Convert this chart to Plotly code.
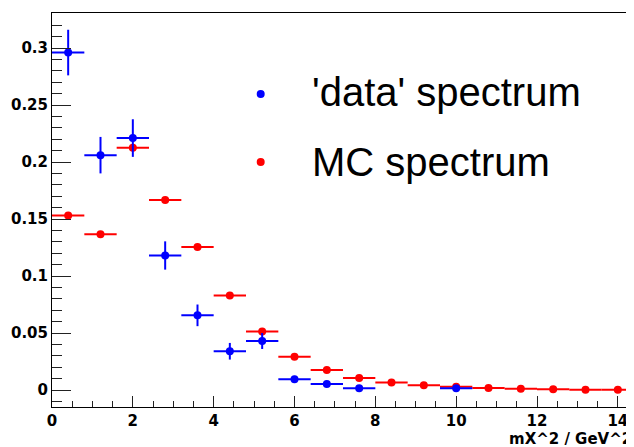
import plotly.graph_objects as go

# ---- data ----
bin_centers = [0.4, 1.2, 2.0, 2.8, 3.6, 4.4, 5.2, 6.0, 6.8, 7.6, 8.4, 9.2, 10.0, 10.8, 11.6, 12.4, 13.2, 14.0]
bin_half_width = 0.4

data_values = [0.296, 0.206, 0.221, 0.118, 0.0655, 0.034, 0.043, 0.0094, 0.0053, 0.0015,
               None, None, 0.0015, None, None, None, None, None]
data_errors = [0.020, 0.016, 0.0165, 0.0124, 0.0095, 0.0073, 0.007, 0.003, 0.002, 0.0015,
               None, None, 0.0015, None, None, None, None, None]

mc_values = [0.153, 0.1366, 0.2126, 0.1667, 0.1254, 0.083, 0.0514, 0.0292, 0.0175, 0.0105,
             0.0067, 0.0041, 0.0029, 0.0018, 0.0012, 0.0006, 0.0003, 0.0003]
mc_errors = [0.001] * len(mc_values)

legend_labels = ["'data' spectrum", "MC spectrum"]
x_title = "mX^2 / GeV^2"

BLUE = "#0000ff"
RED = "#ff0000"

# page body margin offsets the figure by 8px; compensate
OFF = 8
W, H = 634, 447
# desired screen positions of the plot frame
SL, SR, ST, SB = 52, 634, 13, 407
L, T = SL - OFF, ST - OFF
R = W - (SR - OFF)
B = H - (SB - OFF)
PW = SR - SL
PH = SB - ST

def px_x(px):
    return (px - SL) / PW

def px_y(py):
    return (SB - py) / PH

fig = go.Figure()

fig.add_trace(go.Scatter(
    x=bin_centers, y=mc_values, mode="markers", name=legend_labels[1],
    marker=dict(color=RED, size=8),
    error_x=dict(type="constant", value=bin_half_width, color=RED, thickness=2, width=0),
    error_y=dict(type="data", array=mc_errors, color=RED, thickness=2, width=0),
    showlegend=False,
))

xs_d = [x for x, v in zip(bin_centers, data_values) if v is not None]
ys_d = [v for v in data_values if v is not None]
es_d = [e for e, v in zip(data_errors, data_values) if v is not None]
fig.add_trace(go.Scatter(
    x=xs_d, y=ys_d, mode="markers", name=legend_labels[0],
    marker=dict(color=BLUE, size=8),
    error_x=dict(type="constant", value=bin_half_width, color=BLUE, thickness=2, width=0),
    error_y=dict(type="data", array=es_d, color=BLUE, thickness=2, width=0),
    showlegend=False,
))

tickfont = dict(family="DejaVu Sans", size=15, color="black", weight="bold")

fig.update_xaxes(
    range=[0, 14.4], tick0=0, dtick=2, ticks="inside", ticklen=11, tickwidth=1,
    tickcolor="#222", showline=True, linecolor="black", linewidth=1, mirror=True,
    showgrid=False, zeroline=False, tickfont=tickfont, automargin=False,
    minor=dict(ticks="inside", dtick=0.5, ticklen=6, tickcolor="#222", tickwidth=1, showgrid=False),
)
fig.update_yaxes(
    range=[-0.0149, 0.3307], tick0=0, dtick=0.05, ticks="inside", ticklen=19, tickwidth=1,
    tickcolor="#222", showline=True, linecolor="black", linewidth=1, mirror=False,
    showgrid=False, zeroline=False, tickfont=tickfont, automargin=False,
    minor=dict(ticks="inside", dtick=0.01, ticklen=10, tickcolor="#222", tickwidth=1, showgrid=False),
)

# legend (text + dots)
legend_text_y = [92, 162]
legend_dot_y = [94, 162]
colors = [BLUE, RED]
for lab, ty, dy, c in zip(legend_labels, legend_text_y, legend_dot_y, colors):
    fig.add_annotation(
        x=px_x(310), y=px_y(ty), xref="paper", yref="paper", text=lab,
        showarrow=False, xanchor="left", yanchor="middle",
        font=dict(family="Liberation Sans", size=40, color="black"),
    )
    fig.add_shape(
        type="circle", xref="paper", yref="paper",
        xsizemode="pixel", ysizemode="pixel",
        xanchor=px_x(260.7), yanchor=px_y(dy), x0=-4, x1=4, y0=-4, y1=4,
        fillcolor=c, line=dict(width=0),
    )

fig.add_annotation(
    x=1, y=px_y(438.5), xref="paper", yref="paper", text=x_title,
    showarrow=False, xanchor="right", yanchor="middle",
    font=tickfont,
)

fig.update_layout(
    width=W, height=H,
    margin=dict(l=L, r=R, t=T, b=B, autoexpand=False),
    plot_bgcolor="white", paper_bgcolor="white",
    showlegend=False,
)

fig.write_html("out.html")
